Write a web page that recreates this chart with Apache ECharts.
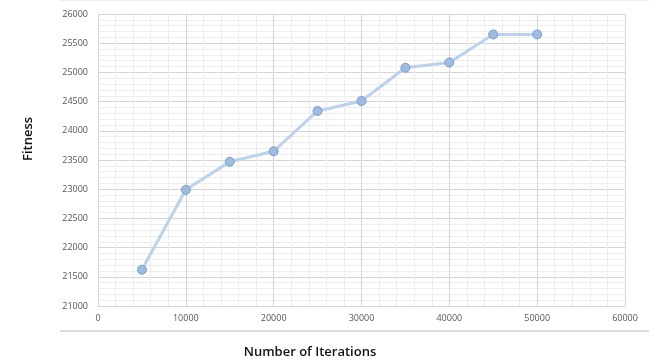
<!DOCTYPE html>
<html><head><meta charset="utf-8">
<script src="https://cdn.jsdelivr.net/npm/echarts@6/dist/echarts.min.js"></script>
<style>html,body{margin:0;padding:0;background:#fff}#c{width:649px;height:362px}</style>
</head><body><div id="c"></div>
<script>
const iterations = [5000, 10000, 15000, 20000, 25000, 30000, 35000, 40000, 45000, 50000];
const fitness = [21620, 22990, 23470, 23650, 24340, 24510, 25080, 25170, 25650, 25650];
const xTitle = 'Number of Iterations';
const yTitle = 'Fitness';

const chart = echarts.init(document.getElementById('c'), null, {renderer: 'canvas'});
const plain = v => String(v);
chart.setOption({
  animation: false,
  backgroundColor: '#ffffff',
  grid: {left: 98, right: 24, top: 14, bottom: 56},
  xAxis: {
    type: 'value', min: 0, max: 60000, interval: 10000,
    axisLine: {show: true, lineStyle: {color: '#d4d4d4', width: 1}},
    axisTick: {show: false},
    axisLabel: {color: '#555', fontSize: 9, fontFamily: 'Open Sans', margin: 8, formatter: plain},
    splitLine: {show: true, lineStyle: {color: '#d4d4d4', width: 1}},
    minorTick: {show: false, splitNumber: 5},
    minorSplitLine: {show: true, lineStyle: {color: '#ededed', width: 1}}
  },
  yAxis: {
    type: 'value', min: 21000, max: 26000, interval: 500,
    axisLine: {show: true, lineStyle: {color: '#d4d4d4', width: 1}},
    axisTick: {show: false},
    axisLabel: {color: '#555', fontSize: 9, fontFamily: 'Open Sans', margin: 10, formatter: plain},
    splitLine: {show: true, lineStyle: {color: '#d4d4d4', width: 1}},
    minorTick: {show: false, splitNumber: 5},
    minorSplitLine: {show: true, lineStyle: {color: '#ededed', width: 1}}
  },
  graphic: [
    {type: 'line', shape: {x1: 60, y1: 0.5, x2: 649, y2: 0.5}, style: {stroke: '#eeeeee', lineWidth: 1}},
    {type: 'line', shape: {x1: 60, y1: 331, x2: 649, y2: 331}, style: {stroke: '#dcdcdc', lineWidth: 2}},
    {type: 'text', x: 310, y: 352, style: {text: xTitle, textAlign: 'center', textVerticalAlign: 'middle', font: '600 13px "Open Sans"', fill: '#111'}},
    {type: 'text', rotation: Math.PI / 2, x: 28, y: 139, style: {text: yTitle, textAlign: 'center', textVerticalAlign: 'middle', font: '600 13px "Open Sans"', fill: '#111'}}
  ],
  series: [{
    type: 'line',
    data: iterations.map((x, i) => [x, fitness[i]]),
    symbol: 'circle', symbolSize: 9,
    lineStyle: {color: '#bcd2ec', width: 3},
    itemStyle: {color: '#9ebbe0', borderColor: '#7b9dcb', borderWidth: 1},
    z: 5
  }]
});
</script></body></html>
